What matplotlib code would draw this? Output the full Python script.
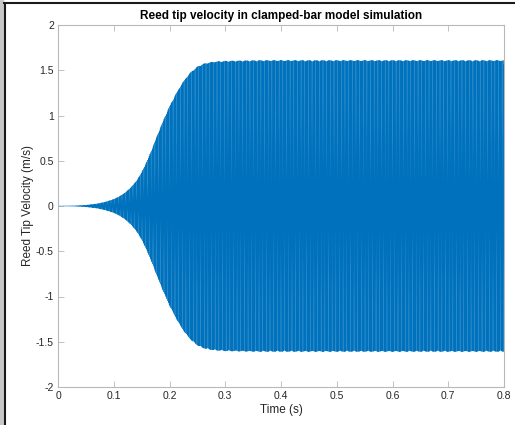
import numpy as np
import matplotlib
matplotlib.use("Agg")
import matplotlib.pyplot as plt
from matplotlib.lines import Line2D

# Envelope of the reed tip velocity
env_t = [0.0, 0.03, 0.05, 0.07, 0.085, 0.1, 0.11, 0.12, 0.13, 0.14, 0.15, 0.16, 0.17,
         0.18, 0.19, 0.2, 0.21, 0.22, 0.23, 0.24, 0.25, 0.26, 0.27, 0.28, 0.3, 0.33,
         0.36, 0.4, 0.8]
env_a = [0.0, 0.003, 0.01, 0.025, 0.045, 0.075, 0.105, 0.145, 0.2, 0.27, 0.37, 0.5, 0.65,
         0.81, 0.96, 1.1, 1.22, 1.33, 1.42, 1.49, 1.54, 1.57, 1.585, 1.595, 1.603, 1.607,
         1.61, 1.61, 1.61]
fundamental_hz = 710.0
harmonic_amps = [1.0, 0.0, 0.4, 0.0, 0.2]
sample_rate = 44100.0
t_end = 0.8

xticks = [0, 0.1, 0.2, 0.3, 0.4, 0.5, 0.6, 0.7, 0.8]
xticklabels = ["0", "0.1", "0.2", "0.3", "0.4", "0.5", "0.6", "0.7", "0.8"]
yticks = [-2, -1.5, -1, -0.5, 0, 0.5, 1, 1.5, 2]
yticklabels = ["-2", "-1.5", "-1", "-0.5", "0", "0.5", "1", "1.5", "2"]

t = np.arange(0, t_end, 1.0 / sample_rate)
amp = np.interp(t, env_t, env_a)
wave = sum(a * np.cos(2 * np.pi * fundamental_hz * (k + 1) * t)
           for k, a in enumerate(harmonic_amps))
wave = wave / np.abs(wave).max()
v = amp * wave

plt.rcParams['font.family'] = ['Liberation Sans', 'DejaVu Sans']
fig = plt.figure(figsize=(5.15, 4.25), dpi=100)
ax = fig.add_axes([58 / 515, 38 / 425, 446 / 515, 362 / 425])
ax.plot(t, v, color='#0072BD', lw=0.3)
ax.set_xlim(0, 0.8)
ax.set_ylim(-2, 2)
ax.set_xticks(xticks)
ax.set_xticklabels(xticklabels)
ax.set_yticks(yticks)
ax.set_yticklabels(yticklabels)
spine_c = '#b8b8b8'
for s in ax.spines.values():
    s.set_color(spine_c)
    s.set_linewidth(0.8)
ax.tick_params(direction='in', length=4, width=0.6, color=spine_c,
               labelsize=7.5, labelcolor='#262626', top=True, right=True, pad=3)
ax.set_xlabel("Time (s)", fontsize=8.5, color='#262626', labelpad=2)
ax.set_ylabel("Reed Tip Velocity (m/s)", fontsize=8.5, color='#262626', labelpad=1)
ax.set_title("Reed tip velocity in clamped-bar model simulation", fontsize=8.5,
             fontweight='bold', pad=4)

# screenshot frame
W, H = 515.0, 425.0
fig.patches.append(plt.Rectangle((0, 0), 3 / W, 1, transform=fig.transFigure,
                                 color='#c8c8c8', zorder=0))
fig.add_artist(Line2D([4.5 / W, 4.5 / W], [0, 1 - 3 / H], color='#1a1a1a', lw=1.5,
                      transform=fig.transFigure))
fig.add_artist(Line2D([4 / W, 1], [1 - 3 / H, 1 - 3 / H], color='#1a1a1a', lw=1.5,
                      transform=fig.transFigure))

fig.savefig("out.png", dpi=100)
